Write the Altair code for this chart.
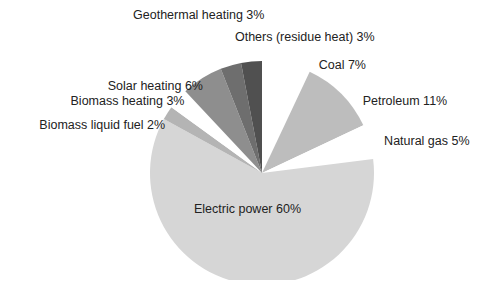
import altair as alt
import pandas as pd
import math

# Data (clockwise from 12 o'clock)
categories = ["Coal", "Petroleum", "Natural gas", "Electric power",
              "Biomass liquid fuel", "Biomass heating", "Solar heating",
              "Geothermal heating", "Others (residue heat)"]
shares = [7, 11, 5, 60, 2, 3, 6, 3, 3]
labels = ["Coal 7%", "Petroleum 11%", "Natural gas 5%", "Electric power 60%",
          "Biomass liquid fuel 2%", "Biomass heating 3%", "Solar heating 6%",
          "Geothermal heating 3%", "Others (residue heat) 3%"]
colors = ["#ffffff", "#bdbdbd", "#ffffff", "#d6d6d6",
          "#b4b4b4", "#ffffff", "#8e8e8e", "#6e6e6e", "#505050"]

df = pd.DataFrame({
    "category": categories,
    "share": shares,
    "label": labels,
    "order": list(range(len(categories))),
})

# Layout / style for the labels (radius from centre, nudges in px)
label_style = {
    "Coal": (130, 52, 19),
    "Petroleum": (130, 51, 20),
    "Natural gas": (130, 40, 4),
    "Electric power": (40, -7, -3),
    "Biomass liquid fuel": (130, -50, 22),
    "Biomass heating": (130, -37, 14),
    "Solar heating": (130, -37, 23),
    "Geothermal heating": (130, -27, -33),
    "Others (residue heat)": (130, 55, -7),
}

CX, CY, R = 254, 165, 112
total = sum(shares)

arcs = alt.Chart(df).mark_arc(outerRadius=R, stroke=None).encode(
    theta=alt.Theta("share:Q", stack=True),
    order=alt.Order("order:Q"),
    x=alt.value(CX),
    y=alt.value(CY),
    color=alt.Color("category:N",
                    scale=alt.Scale(domain=categories, range=colors),
                    legend=None),
)

text_base = alt.Chart(df).transform_window(
    cum="sum(share)", sort=[alt.SortField("order")]
).transform_calculate(
    mid="datum.cum - datum.share / 2"
).encode(
    theta=alt.Theta("mid:Q", stack=None,
                    scale=alt.Scale(domain=[0, total], range=[0, 2 * math.pi])),
    x=alt.value(CX),
    y=alt.value(CY),
    text="label:N",
)

layers = [arcs]
for cat, (rad, dx, dy) in label_style.items():
    layers.append(
        text_base.mark_text(radius=rad, dx=dx, dy=dy, fontSize=12.5,
                            font="Liberation Sans", color="#222222",
                            align="center", baseline="middle")
        .transform_filter(alt.datum.category == cat)
    )

chart = alt.layer(*layers).resolve_scale(theta="independent").properties(
    width=473, height=272,
    autosize=alt.AutoSizeParams(type="none"),
    padding=0,
).configure_view(stroke=None)

chart.save("out.html", embed_options={"renderer": "svg", "actions": False})
